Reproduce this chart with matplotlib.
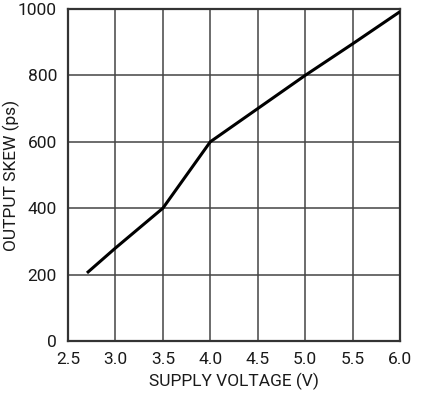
import matplotlib.pyplot as plt

voltage = [2.7, 3.0, 3.5, 4.0, 4.5, 5.0, 5.5, 6.0]
skew = [205, 280, 400, 600, 700, 800, 895, 992]
x_ticks = [2.5, 3.0, 3.5, 4.0, 4.5, 5.0, 5.5, 6.0]
y_ticks = [0, 200, 400, 600, 800, 1000]

plt.rcParams['font.family'] = ['Roboto', 'DejaVu Sans']

fig = plt.figure(figsize=(4.35, 3.96), dpi=100)
ax = fig.add_axes([68 / 435, 1 - 341 / 396, 332 / 435, 332 / 396])

ax.plot(voltage, skew, color='black', lw=2.2, solid_capstyle='butt', zorder=3)

ax.set_xlim(2.5, 6.0)
ax.set_ylim(0, 1000)
ax.set_xticks(x_ticks)
ax.set_xticklabels(['%.1f' % v for v in x_ticks])
ax.set_yticks(y_ticks)
ax.grid(True, color='#444444', lw=1.1)
ax.tick_params(length=0, labelsize=12.5, colors='#1a1a1a')
ax.tick_params(axis='x', pad=8)
ax.tick_params(axis='y', pad=8)
for s in ax.spines.values():
    s.set_color('#333333')
    s.set_linewidth(1.6)

ax.set_xlabel('SUPPLY VOLTAGE (V)', fontsize=12.5, color='#1a1a1a')
ax.set_ylabel('OUTPUT SKEW (ps)', fontsize=12.5, color='#1a1a1a')
ax.xaxis.set_label_coords(0.5, -0.095)
ax.yaxis.set_label_coords(-0.145, 0.5)

fig.savefig('out.png', dpi=100)
